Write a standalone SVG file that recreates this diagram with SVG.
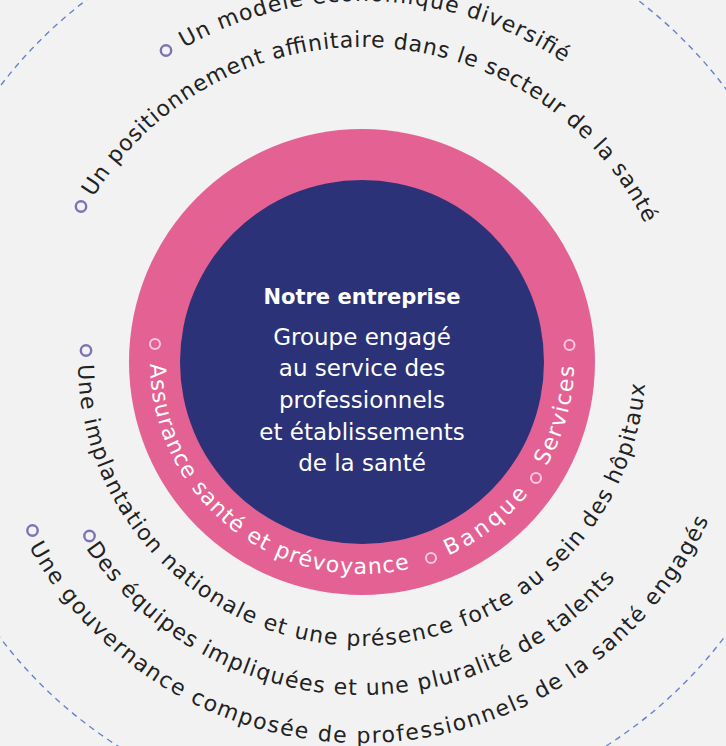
<svg xmlns="http://www.w3.org/2000/svg" width="726" height="746" viewBox="0 0 726 746">
<style>
.arc{font-family:"DejaVu Sans","Liberation Sans",sans-serif;font-size:22px;fill:#222;}
.lab{font-family:"DejaVu Sans","Liberation Sans",sans-serif;font-size:22px;fill:#fff;}
.bp{fill:none;stroke:#7d73b3;stroke-width:2.4;}
.bw{fill:none;stroke:#f7cadb;stroke-width:2;}
.ctr{font-family:"DejaVu Sans","Liberation Sans",sans-serif;font-size:23px;fill:#fff;text-anchor:middle;}
.ttl{font-family:"DejaVu Sans","Liberation Sans",sans-serif;font-size:21px;font-weight:bold;fill:#fff;text-anchor:middle;}
</style>
<defs>
<path id="p1" d="M184.2,47.8 A361,361 0 0 1 563.9,62.7"/>
<path id="p2" d="M93.4,197.4 A315,315 0 0 1 645.1,223.9"/>
<path id="p3" d="M78.0,364.5 A284,284 0 0 0 645.1,384.3"/>
<path id="p4" d="M85.9,548.2 A333,333 0 0 0 615.2,578.3"/>
<path id="p5" d="M28.8,546.7 A381,381 0 0 0 708.7,520.0"/>
<path id="w1" d="M150.0,363.9 A212,212 0 0 0 409.7,568.6"/>
<path id="w2" d="M448.2,555.7 A212,212 0 0 0 527.9,494.0"/>
<path id="w3" d="M546.5,466.4 A212,212 0 0 0 574.0,365.7"/>
</defs>
<rect x="0" y="0" width="726" height="746" fill="#f2f2f2"/>
<g id="outline">
<circle cx="362" cy="362" r="455" fill="none" stroke="#6482cf" stroke-width="1.4" stroke-dasharray="6 5"/>
</g>
<g id="ring">
<circle cx="362" cy="362" r="233" fill="#e46293"/>
<circle cx="362" cy="362" r="182" fill="#2b3278"/>
</g>
<g id="center">
<text class="ttl" x="362" y="304">Notre entreprise</text>
<text class="ctr" x="362" y="345">Groupe engagé</text>
<text class="ctr" x="362" y="376">au service des</text>
<text class="ctr" x="362" y="408">professionnels</text>
<text class="ctr" x="362" y="440">et établissements</text>
<text class="ctr" x="362" y="471">de la santé</text>
</g>
<g id="label-assurance">
<circle class="bw" cx="155" cy="344" r="5"/>
<text class="lab"><textPath href="#w1" textLength="379" lengthAdjust="spacing">Assurance santé et prévoyance</textPath></text>
</g>
<g id="label-banque">
<circle class="bw" cx="431" cy="558" r="5"/>
<text class="lab"><textPath href="#w2" textLength="102" lengthAdjust="spacing">Banque</textPath></text>
</g>
<g id="label-services">
<circle class="bw" cx="536" cy="478" r="5"/>
<circle class="bw" cx="569.5" cy="345" r="5"/>
<text class="lab"><textPath href="#w3" textLength="105" lengthAdjust="spacing">Services</textPath></text>
</g>
<g id="item-modele">
<circle class="bp" cx="166" cy="50.5" r="5.2"/>
<text class="arc"><textPath href="#p1" textLength="400" lengthAdjust="spacing">Un modèle économique diversifié</textPath></text>
</g>
<g id="item-positionnement">
<circle class="bp" cx="81" cy="206.5" r="5.2"/>
<text class="arc"><textPath href="#p2" textLength="673" lengthAdjust="spacing">Un positionnement affinitaire dans le secteur de la santé</textPath></text>
</g>
<g id="item-implantation">
<circle class="bp" cx="86" cy="350.5" r="5.2"/>
<text class="arc"><textPath href="#p3" textLength="867" lengthAdjust="spacing">Une implantation nationale et une présence forte au sein des hôpitaux</textPath></text>
</g>
<g id="item-equipes">
<circle class="bp" cx="89.5" cy="536" r="5.2"/>
<text class="arc"><textPath href="#p4" textLength="613" lengthAdjust="spacing">Des équipes impliquées et une pluralité de talents</textPath></text>
</g>
<g id="item-gouvernance">
<circle class="bp" cx="32.5" cy="530.5" r="5.2"/>
<text class="arc"><textPath href="#p5" textLength="841" lengthAdjust="spacing">Une gouvernance composée de professionnels de la santé engagés</textPath></text>
</g>
<g id="connectors"></g>
</svg>
